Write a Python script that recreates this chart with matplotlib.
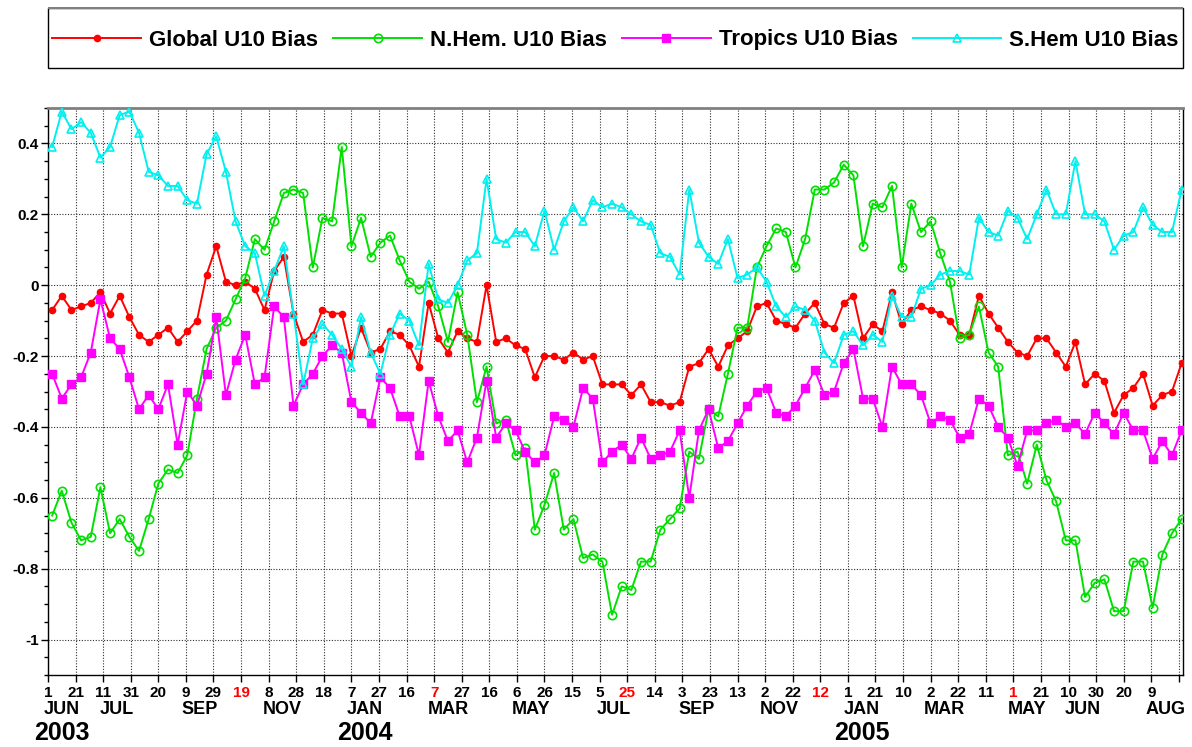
import matplotlib
matplotlib.use('Agg')
import matplotlib.pyplot as plt
import numpy as np
import pandas as pd
from matplotlib.ticker import MultipleLocator, FixedLocator, FuncFormatter
from matplotlib.transforms import blended_transform_factory
from matplotlib.patches import Rectangle

plt.rcParams['font.family'] = ['Liberation Sans', 'DejaVu Sans']
plt.rcParams['font.weight'] = 'bold'

# ---------------- data (weekly) ----------------
dates = pd.date_range('2003-06-04', periods=118, freq='7D')

global_bias = [
    -0.07, -0.03, -0.07, -0.06, -0.05, -0.02, -0.08, -0.03, -0.09, -0.14, -0.16, -0.14, -0.12, -0.16, -0.13, -0.10, 0.03,
    0.11, 0.01, 0.00, 0.01, -0.01, -0.07, 0.04, 0.08, -0.08, -0.16, -0.14, -0.07, -0.08, -0.08, -0.20, -0.12, -0.19, -0.18,
    -0.13, -0.14, -0.17, -0.23, -0.05, -0.15, -0.19, -0.13, -0.15, -0.16, 0.00, -0.16, -0.15, -0.17, -0.18, -0.26, -0.20,
    -0.20, -0.21, -0.19, -0.21, -0.20, -0.28, -0.28, -0.28, -0.31, -0.28, -0.33, -0.33, -0.34, -0.33, -0.23, -0.22, -0.18, -0.23,
    -0.17, -0.15, -0.13, -0.06, -0.05, -0.10, -0.11, -0.12, -0.08, -0.05, -0.11, -0.12, -0.05, -0.03, -0.15, -0.11, -0.13, -0.02,
    -0.11, -0.07, -0.06, -0.07, -0.08, -0.10, -0.14, -0.14, -0.03, -0.08, -0.12, -0.16, -0.19, -0.20, -0.15, -0.15, -0.19,
    -0.23, -0.16, -0.28, -0.25, -0.27, -0.36, -0.31, -0.29, -0.25, -0.34, -0.31, -0.30, -0.22]

nhem_bias = [
    -0.65, -0.58, -0.67, -0.72, -0.71, -0.57, -0.70, -0.66, -0.71, -0.75, -0.66, -0.56, -0.52, -0.53, -0.48, -0.32, -0.18,
    -0.12, -0.10, -0.04, 0.02, 0.13, 0.10, 0.18, 0.26, 0.27, 0.26, 0.05, 0.19, 0.18, 0.39, 0.11, 0.19, 0.08, 0.12,
    0.14, 0.07, 0.01, -0.01, 0.01, -0.06, -0.16, -0.02, -0.14, -0.33, -0.23, -0.39, -0.38, -0.48, -0.46, -0.69, -0.62,
    -0.53, -0.69, -0.66, -0.77, -0.76, -0.78, -0.93, -0.85, -0.86, -0.78, -0.78, -0.69, -0.66, -0.63, -0.47, -0.49, -0.35, -0.37,
    -0.25, -0.12, -0.12, 0.05, 0.11, 0.16, 0.15, 0.05, 0.13, 0.27, 0.27, 0.29, 0.34, 0.31, 0.11, 0.23, 0.22, 0.28,
    0.05, 0.23, 0.15, 0.18, 0.09, 0.01, -0.15, -0.14, -0.06, -0.19, -0.23, -0.48, -0.47, -0.56, -0.45, -0.55, -0.61,
    -0.72, -0.72, -0.88, -0.84, -0.83, -0.92, -0.92, -0.78, -0.78, -0.91, -0.76, -0.70, -0.66]

tropics_bias = [
    -0.25, -0.32, -0.28, -0.26, -0.19, -0.04, -0.15, -0.18, -0.26, -0.35, -0.31, -0.35, -0.28, -0.45, -0.30, -0.34, -0.25,
    -0.09, -0.31, -0.21, -0.14, -0.28, -0.26, -0.06, -0.09, -0.34, -0.28, -0.25, -0.20, -0.17, -0.19, -0.33, -0.36, -0.39, -0.26,
    -0.29, -0.37, -0.37, -0.48, -0.27, -0.37, -0.44, -0.41, -0.50, -0.43, -0.27, -0.43, -0.39, -0.41, -0.47, -0.50, -0.48,
    -0.37, -0.38, -0.40, -0.29, -0.32, -0.50, -0.47, -0.45, -0.49, -0.43, -0.49, -0.48, -0.47, -0.41, -0.60, -0.41, -0.35, -0.46,
    -0.44, -0.39, -0.34, -0.30, -0.29, -0.36, -0.37, -0.34, -0.29, -0.24, -0.31, -0.30, -0.22, -0.18, -0.32, -0.32, -0.40, -0.23,
    -0.28, -0.28, -0.31, -0.39, -0.37, -0.38, -0.43, -0.42, -0.32, -0.34, -0.40, -0.43, -0.51, -0.41, -0.41, -0.39, -0.38,
    -0.40, -0.39, -0.42, -0.36, -0.39, -0.42, -0.36, -0.41, -0.41, -0.49, -0.44, -0.48, -0.41]

shem_bias = [
    0.39, 0.49, 0.44, 0.46, 0.43, 0.36, 0.39, 0.48, 0.49, 0.43, 0.32, 0.31, 0.28, 0.28, 0.24, 0.23, 0.37,
    0.42, 0.32, 0.18, 0.11, 0.09, -0.03, 0.04, 0.11, -0.08, -0.28, -0.15, -0.11, -0.14, -0.18, -0.23, -0.09, -0.19, -0.25,
    -0.14, -0.08, -0.10, -0.17, 0.06, -0.04, -0.05, 0.00, 0.07, 0.09, 0.30, 0.13, 0.12, 0.15, 0.15, 0.11, 0.21,
    0.10, 0.18, 0.22, 0.18, 0.24, 0.22, 0.23, 0.22, 0.20, 0.18, 0.17, 0.09, 0.08, 0.03, 0.27, 0.12, 0.08, 0.06,
    0.13, 0.02, 0.03, 0.05, 0.01, -0.06, -0.09, -0.06, -0.07, -0.10, -0.19, -0.22, -0.14, -0.13, -0.17, -0.14, -0.16, -0.03,
    -0.09, -0.09, -0.01, 0.00, 0.03, 0.04, 0.04, 0.03, 0.19, 0.15, 0.14, 0.21, 0.19, 0.13, 0.20, 0.27, 0.20,
    0.20, 0.35, 0.20, 0.20, 0.18, 0.10, 0.14, 0.15, 0.22, 0.17, 0.15, 0.15, 0.27]

series_labels = ['Global U10 Bias', 'N.Hem. U10 Bias', 'Tropics U10 Bias', 'S.Hem U10 Bias']
month_names = ['JAN', 'FEB', 'MAR', 'APR', 'MAY', 'JUN', 'JUL', 'AUG', 'SEP', 'OCT', 'NOV', 'DEC']
y_ticks = [-1.0, -0.8, -0.6, -0.4, -0.2, 0.0, 0.2, 0.4]

axis_start = pd.Timestamp('2003-06-01')
axis_end = pd.Timestamp('2005-09-01')
tick_dates = pd.date_range(axis_start, '2005-08-29', freq='20D')

# ---------------- figure ----------------
W, H = 1192, 747
fig = plt.figure(figsize=(W / 100, H / 100), dpi=100)
ax = fig.add_axes([48 / W, 1 - 675 / H, 1135 / W, 567 / H])

styles = [
    dict(color='#FF0000', marker='o', ms=4.5, mfc='#FF0000', mec='#FF0000'),
    dict(color='#00E000', marker='o', ms=6, mfc='none', mec='#00E000', mew=1.2),
    dict(color='#FF00FF', marker='s', ms=5.5, mfc='#FF00FF', mec='#FF00FF'),
    dict(color='#00F0F0', marker='^', ms=6, mfc='none', mec='#00F0F0', mew=1.2),
]
handles = []
for vals, lab, st in zip([global_bias, nhem_bias, tropics_bias, shem_bias], series_labels, styles):
    h, = ax.plot(dates, vals, lw=1.4, label=lab, zorder=3, **st)
    handles.append(h)

ax.set_xlim(axis_start, axis_end)
ax.set_ylim(-1.1, 0.5)

# y axis
ax.yaxis.set_major_locator(FixedLocator(y_ticks))
ax.yaxis.set_minor_locator(MultipleLocator(0.05))
ax.yaxis.set_major_formatter(FuncFormatter(lambda v, p: '0' if abs(v) < 1e-9 else f'{round(v, 1):g}'))
ax.tick_params(axis='y', which='major', direction='out', length=5, width=1, pad=1.5, labelsize=11)
ax.tick_params(axis='y', which='minor', direction='out', length=3, width=1)

# x axis
ax.set_xticks(tick_dates)
xlabels = [str(d.day) for d in tick_dates]
xlabels[-1] = ''
ax.set_xticklabels(xlabels)
ax.tick_params(axis='x', which='major', direction='out', length=5, width=1, pad=3, labelsize=11)
for i, t in enumerate(ax.get_xticklabels()):
    t.set_fontweight('bold')
    if i > 0 and i % 7 == 0:
        t.set_color('#FF0000')
for t in ax.get_yticklabels():
    t.set_fontweight('bold')

ax.grid(True, which='major', linestyle=(0, (1, 1.5)), color='#303030', linewidth=0.8, zorder=1)
ax.set_axisbelow(True)
for s in ax.spines.values():
    s.set_color('black')
    s.set_linewidth(1)
ax.spines['top'].set_color('#808080')
ax.spines['top'].set_linewidth(2)

# month and year labels
trans = blended_transform_factory(ax.transData, fig.transFigure)
groups = {}
for d in tick_dates:
    groups.setdefault((d.year, d.month), []).append(d)
seen_years = set()
for (yr, mo), ds in groups.items():
    if len(ds) >= 2:
        center = ds[0] + (ds[-1] - ds[0]) / 2
        ax.text(center, 1 - 709 / H, month_names[mo - 1], transform=trans, ha='center', va='center',
                fontsize=13, fontweight='bold')
        if yr not in seen_years:
            seen_years.add(yr)
            ax.text(center, 1 - 733 / H, str(yr), transform=trans, ha='center', va='center',
                    fontsize=18, fontweight='bold')

# legend box and legend
fig.patches.append(Rectangle((48 / W, 1 - 68 / H), 1135 / W, 60 / H, transform=fig.transFigure,
                             fill=False, edgecolor='black', linewidth=1))
fig.patches.append(Rectangle((48 / W, 1 - 9 / H), 1135 / W, 1.5 / H, transform=fig.transFigure,
                             facecolor='#808080', edgecolor='none'))
leg = fig.legend(handles=handles, labels=series_labels, loc='center',
                 bbox_to_anchor=(48 / W, 1 - 70 / H, 1135 / W, 60 / H), mode='expand', ncol=4,
                 numpoints=1, handlelength=4.0, handletextpad=0.35, borderpad=0.2, columnspacing=0.5,
                 frameon=False, prop=dict(size=16, weight='bold'), borderaxespad=0)

fig.savefig('out.png', dpi=100)
